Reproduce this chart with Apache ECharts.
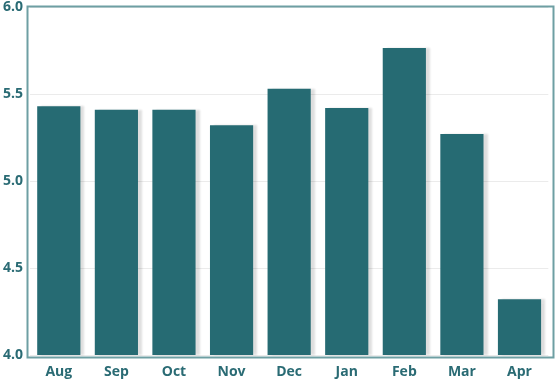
<!DOCTYPE html>
<html><head><meta charset="utf-8">
<script src="https://cdn.jsdelivr.net/npm/echarts@6/dist/echarts.min.js"></script>
<style>html,body{margin:0;padding:0;background:#fff}#c{width:560px;height:390px}</style>
</head><body><div id="c"></div>
<script>
var categories = ['Aug','Sep','Oct','Nov','Dec','Jan','Feb','Mar','Apr'];
var values = [5.43, 5.41, 5.41, 5.32, 5.53, 5.42, 5.765, 5.27, 4.32];
var yTicks = {min: 4, max: 6, step: 0.5};
var chart = echarts.init(document.getElementById('c'));
chart.setOption({
  animation: false,
  grid: {left: 29.5, top: 5, right: 11.7, bottom: 35},
  graphic: [{
    type: 'rect', left: 25, top: 4, z: 100, silent: true,
    shape: {width: 526, height: 351},
    style: {fill: 'none', stroke: '#6e9fa3', lineWidth: 2}
  }],
  xAxis: {
    type: 'category', data: categories,
    axisLine: {show: false}, axisTick: {show: false},
    axisLabel: {color: '#2a6b74', fontFamily: 'Open Sans', fontWeight: 'bold', fontSize: 14, margin: 10}
  },
  yAxis: {
    type: 'value', min: yTicks.min, max: yTicks.max, interval: yTicks.step,
    axisLine: {show: false}, axisTick: {show: false},
    axisLabel: {color: '#2a6b74', fontFamily: 'Open Sans', fontWeight: 'bold', fontSize: 14, margin: 7,
      formatter: function(v){return v.toFixed(1);}},
    splitLine: {lineStyle: {color: '#ebebeb', width: 1}}
  },
  series: [{
    type: 'bar', data: values, barWidth: '75%',
    itemStyle: {color: '#266b73', shadowColor: 'rgba(0,0,0,0.13)', shadowOffsetX: 4, shadowBlur: 2}
  }]
});
</script></body></html>
